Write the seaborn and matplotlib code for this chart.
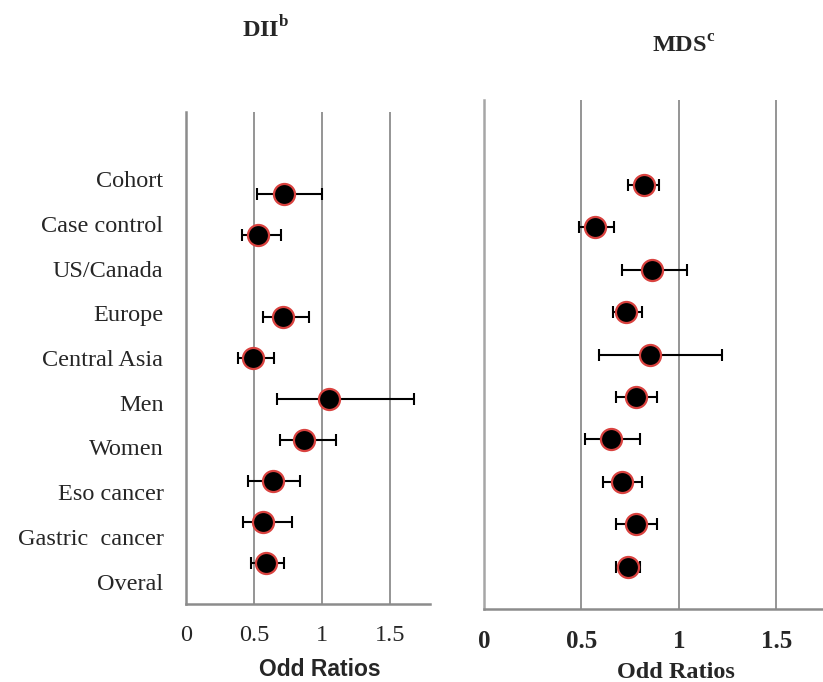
import numpy as np
import pandas as pd
import matplotlib.pyplot as plt
import seaborn as sns

# data, bottom -> top
groups = ['Overal', 'Gastric  cancer', 'Eso cancer', 'Women', 'Men',
          'Central Asia', 'Europe', 'US/Canada', 'Case control', 'Cohort']
dii_or = [0.59, 0.57, 0.64, 0.87, 1.05, 0.49, 0.71, np.nan, 0.53, 0.72]
dii_lo = [0.48, 0.42, 0.46, 0.69, 0.67, 0.38, 0.57, np.nan, 0.41, 0.52]
dii_hi = [0.72, 0.78, 0.84, 1.10, 1.67, 0.65, 0.90, np.nan, 0.70, 1.00]
mds_or = [0.74, 0.78, 0.71, 0.65, 0.78, 0.85, 0.73, 0.86, 0.57, 0.82]
mds_lo = [0.68, 0.68, 0.61, 0.52, 0.68, 0.59, 0.66, 0.71, 0.49, 0.74]
mds_hi = [0.80, 0.89, 0.81, 0.80, 0.89, 1.22, 0.81, 1.04, 0.67, 0.90]
xticks = [0, 0.5, 1, 1.5]
xtick_labels = ['0', '0.5', '1', '1.5']

sns.set_style('white')
plt.rcParams['font.family'] = ['Liberation Serif', 'DejaVu Serif']
plt.rcParams['mathtext.fontset'] = 'custom'
plt.rcParams['mathtext.bf'] = 'Liberation Serif:bold'
plt.rcParams['mathtext.rm'] = 'Liberation Serif'

GRID = '#8c8c8c'
n_slots = 11
ymax = 12


def make_df(orr, lo, hi):
    d = pd.DataFrame({'group': groups, 'or': orr, 'lo': lo, 'hi': hi})
    d['y'] = np.arange(1, len(groups) + 1)
    return d.dropna()


def forest(ax, d, xmax):
    ax.errorbar(d['or'], d['y'], xerr=[d['or'] - d['lo'], d['hi'] - d['or']],
                fmt='none', ecolor='black', elinewidth=1.5, capsize=4, capthick=1.5, zorder=3)
    sns.scatterplot(data=d, x='or', y='y', ax=ax, s=230, color='black',
                    edgecolor='#d9423f', linewidth=1.6, zorder=4, legend=False)
    ax.set_xlim(0, xmax)
    ax.set_ylim(0, ymax)
    ax.set_xticks(xticks)
    ax.set_xticklabels(xtick_labels)
    for x in xticks[1:]:
        ax.axvline(x, color=GRID, lw=1.3, zorder=1)
    ax.tick_params(axis='x', direction='out', length=6, width=1.3, color=GRID, pad=9)
    ax.spines['top'].set_visible(False)
    ax.spines['right'].set_visible(False)
    ax.spines['bottom'].set_color(GRID)
    ax.spines['bottom'].set_linewidth(1.8)
    ax.spines['left'].set_color(GRID)
    ax.spines['left'].set_linewidth(1.8)
    ax.set_xlabel('')
    ax.set_ylabel('')


fig = plt.figure(figsize=(8.23, 6.82), dpi=100)

# left panel: DII
ax1 = fig.add_axes([0.2256, 0.1144, 0.2969, 0.7214])
forest(ax1, make_df(dii_or, dii_lo, dii_hi), 1.79)
step = ymax / n_slots
ax1.set_yticks([(k + 0.5) * step for k in range(len(groups))])
ax1.set_yticklabels(groups, fontsize=17.5)
ax1.set_yticks([k * step for k in range(n_slots + 1)], minor=True)
ax1.tick_params(axis='y', which='major', length=0, pad=16)
ax1.tick_params(axis='y', which='minor', direction='out', length=6, width=1.3, color=GRID)
ax1.tick_params(axis='x', labelsize=17.5)
ax1.set_xlabel('Odd Ratios', fontsize=16.5, fontweight='bold', family='Liberation Sans')
ax1.xaxis.set_label_coords(0.55, -0.11)

# right panel: MDS
ax2 = fig.add_axes([0.588, 0.107, 0.412, 0.7464])
forest(ax2, make_df(mds_or, mds_lo, mds_hi), 1.74)
ax2.set_yticks([])
ax2.spines['left'].set_color('#a6a6a6')
ax2.tick_params(axis='x', labelsize=18)
for t in ax2.get_xticklabels():
    t.set_fontweight('bold')
ax2.set_xlabel('Odd Ratios', fontsize=17.5, fontweight='bold')
ax2.xaxis.set_label_coords(0.566, -0.105)

fig.text(266 / 823, 1 - 37 / 682, r'DII$^{\mathbf{b}}$', ha='center', va='baseline',
         fontsize=17.5, fontweight='bold')
fig.text(684 / 823, 1 - 53 / 682, r'MDS$^{\mathbf{c}}$', ha='center', va='baseline',
         fontsize=17.5, fontweight='bold')

fig.savefig('out.png', dpi=100)
